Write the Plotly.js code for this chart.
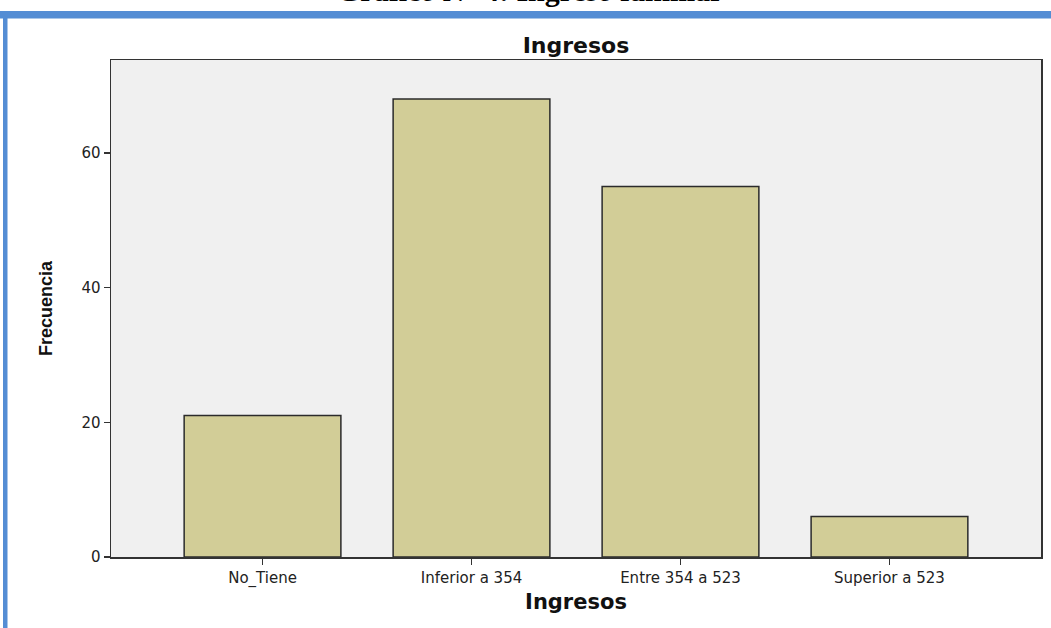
<!DOCTYPE html>
<html>
<head>
<meta charset="utf-8">
<script src="https://cdn.plot.ly/plotly-3.0.1.min.js"></script>
<style>
html,body{margin:0;padding:0;background:#fff;}
#chart{width:1051px;height:628px;}
</style>
</head>
<body>
<div id="chart"></div>
<script>
const categories = ["No_Tiene", "Inferior a 354", "Entre 354 a 523", "Superior a 523"];
const frecuencia = [21, 68, 55, 6];
const yTicks = [0, 20, 40, 60];
const chartTitle = "Ingresos";
const xTitle = "Ingresos";
const yTitle = "Frecuencia";
const pageTitle = "Gráfico N° 4: Ingreso familiar";

const W = 1051, H = 628;
const m = {l: 111, r: 10, t: 60, b: 71};
const pw = W - m.l - m.r, ph = H - m.t - m.b;
const px = x => (x - m.l) / pw;
const py = y => (H - m.b - y) / ph;
const blue = "#548DD4";
const wide = "DejaVu Sans, Verdana, sans-serif";

const trace = {
  type: "bar",
  x: categories,
  y: frecuencia,
  width: 0.75,
  marker: {color: "#D2CD97", line: {color: "#2b2b2b", width: 1.5}},
  hoverinfo: "x+y"
};

const layout = {
  width: W, height: H,
  margin: m,
  paper_bgcolor: "#ffffff",
  plot_bgcolor: "#F0F0F0",
  showlegend: false,
  font: {family: wide, color: "#222"},
  title: {
    text: "<b>" + chartTitle + "</b>",
    font: {size: 22, color: "#111", family: wide},
    x: 0.5, xref: "paper", xanchor: "center",
    y: 1 - 45 / H, yanchor: "middle"
  },
  xaxis: {
    type: "category",
    range: [-0.725, 3.725],
    showline: true, linecolor: "#333", linewidth: 1.5, mirror: true,
    ticks: "outside", ticklen: 6, tickcolor: "#333", tickwidth: 1.5,
    tickfont: {size: 15, color: "#222", family: wide},
    showgrid: false, zeroline: false,
    title: {text: "<b>" + xTitle + "</b>", font: {size: 21, color: "#111", family: wide}, standoff: 8}
  },
  yaxis: {
    range: [0, 73.8],
    tickvals: yTicks,
    showline: true, linecolor: "#333", linewidth: 1.5, mirror: true,
    ticks: "outside", ticklen: 6, tickcolor: "#333", tickwidth: 1.5,
    tickfont: {size: 15, color: "#222", family: wide},
    showgrid: false, zeroline: false,
    title: {text: "<b>" + yTitle + "</b>", font: {size: 18, color: "#111", family: "Liberation Sans Narrow, Arial Narrow, Liberation Sans, sans-serif"}, standoff: 24}
  },
  shapes: [
    {type: "rect", xref: "paper", yref: "paper", x0: px(0), x1: px(W + 5), y0: py(11), y1: py(18.5), fillcolor: blue, line: {width: 0}, layer: "above"},
    {type: "rect", xref: "paper", yref: "paper", x0: px(3), x1: px(7.5), y0: py(11), y1: py(H + 5), fillcolor: blue, line: {width: 0}, layer: "above"}
  ],
  annotations: [
    {text: "<b>" + pageTitle + "</b>", xref: "paper", yref: "paper", x: px(530), y: py(11), xanchor: "center", yanchor: "bottom", yshift: 2.4, showarrow: false,
     font: {family: "Liberation Serif, Times New Roman, serif", size: 30, color: "#000"}}
  ]
};

Plotly.newPlot("chart", [trace], layout, {staticPlot: true, displayModeBar: false});
</script>
</body>
</html>
